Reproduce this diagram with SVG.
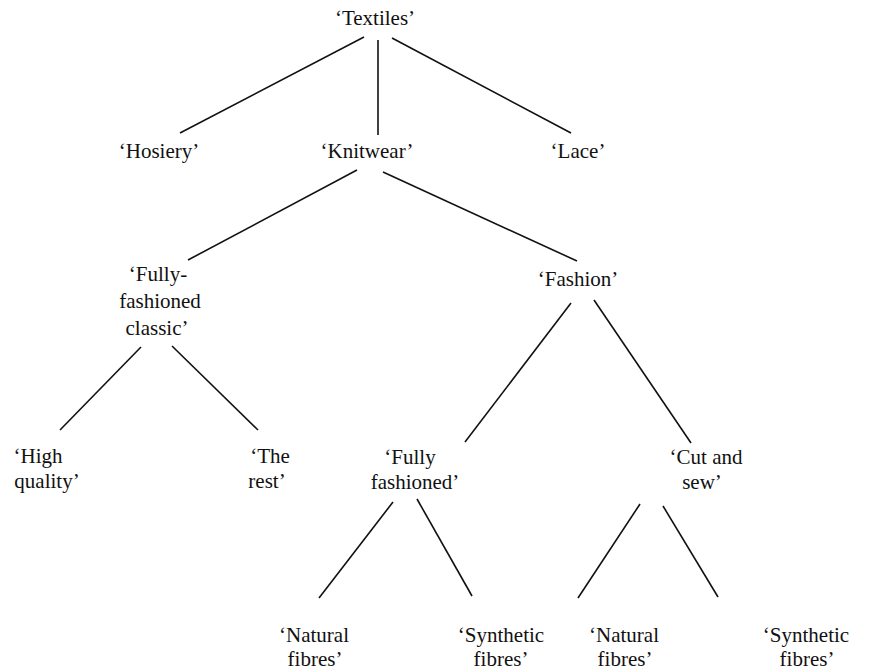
<svg xmlns="http://www.w3.org/2000/svg" width="869" height="670" viewBox="0 0 869 670">
<style>
text{font-family:"Liberation Serif","Times New Roman",serif;font-size:21px;fill:#111;text-anchor:middle}
.c line{stroke:#111;stroke-width:1.6}
</style>
<rect width="869" height="670" fill="#fff"/>
<g class="c" id="connectors">
<line x1="364" y1="37" x2="180" y2="133"/>
<line x1="378" y1="40" x2="378" y2="135"/>
<line x1="392" y1="38" x2="571" y2="133"/>
<line x1="357" y1="170" x2="188" y2="260"/>
<line x1="383" y1="172" x2="577" y2="261"/>
<line x1="141" y1="347" x2="60" y2="430"/>
<line x1="172" y1="346" x2="258" y2="430"/>
<line x1="571" y1="303" x2="465" y2="442"/>
<line x1="594" y1="300" x2="691" y2="443"/>
<line x1="393" y1="502" x2="319" y2="598"/>
<line x1="417" y1="499" x2="472" y2="596"/>
<line x1="640" y1="504" x2="578" y2="598"/>
<line x1="663" y1="506" x2="718" y2="597"/>
</g>
<g id="textiles"><text x="375" y="25">‘Textiles’</text></g>
<g id="hosiery"><text x="159" y="158">‘Hosiery’</text></g>
<g id="knitwear"><text x="367" y="158">‘Knitwear’</text></g>
<g id="lace"><text x="578" y="158">‘Lace’</text></g>
<g id="ffclassic"><text x="158" y="281">‘Fully-</text><text x="160" y="308">fashioned</text><text x="157" y="335">classic’</text></g>
<g id="fashion"><text x="578" y="286">‘Fashion’</text></g>
<g id="highquality"><text x="38" y="463">‘High</text><text x="47" y="488">quality’</text></g>
<g id="therest"><text x="270" y="463">‘The</text><text x="267" y="488">rest’</text></g>
<g id="fullyfashioned"><text x="410" y="464">‘Fully</text><text x="415" y="489">fashioned’</text></g>
<g id="cutandsew"><text x="706" y="464">‘Cut and</text><text x="702" y="489">sew’</text></g>
<g id="nat1"><text x="314" y="642">‘Natural</text><text x="315" y="666">fibres’</text></g>
<g id="syn1"><text x="501" y="642">‘Synthetic</text><text x="501" y="666">fibres’</text></g>
<g id="nat2"><text x="624" y="642">‘Natural</text><text x="625" y="666">fibres’</text></g>
<g id="syn2"><text x="806" y="642">‘Synthetic</text><text x="807" y="666">fibres’</text></g>
</svg>
